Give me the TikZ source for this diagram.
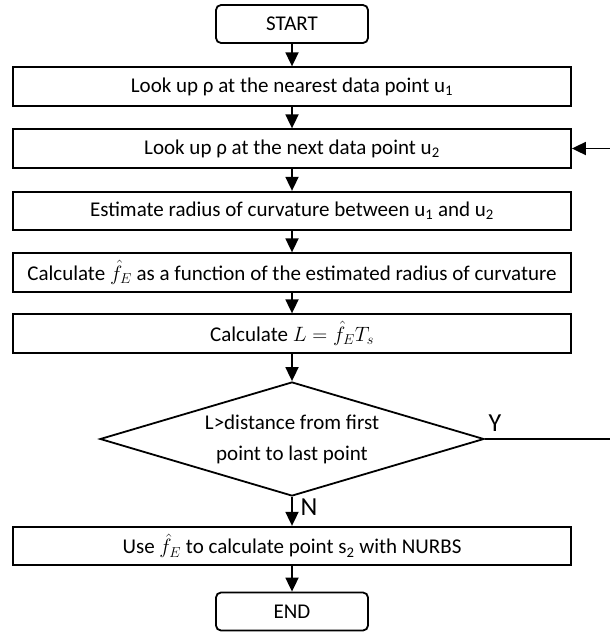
\documentclass[tikz,border=0pt]{standalone}
\usepackage{fontspec}
\setmainfont{Carlito}
\usetikzlibrary{arrows.meta,shapes.geometric}
\begin{document}
\begin{tikzpicture}[x=1pt,y=-1pt,
  txt/.style={font=\fontsize{21}{25}\selectfont},
  stepbox/.style={txt,draw,line width=1.8pt,minimum width=558pt,minimum height=38.5pt,inner sep=0pt},
  term/.style={txt,draw,line width=1.8pt,rounded corners=5pt,
    minimum width=152pt,minimum height=38pt,inner sep=0pt},
  decision/.style={font=\fontsize{21}{31}\selectfont,draw,diamond,aspect=3.37,line width=1.8pt,
    minimum width=384pt,minimum height=114pt,inner sep=0pt,align=center},
  flow/.style={line width=1.8pt,-{Triangle[width=13pt,length=14pt]}},
  branch/.style={font=\fontsize{26}{28}\selectfont}]
\useasboundingbox (0,0) rectangle (610,632);

% process chain
\node[term]     (start) at (292,24)    {START};
\node[stepbox]  (near)  at (292,86.5)  {Look up ρ at the nearest data point u\textsubscript{1}};
\node[stepbox]  (next)  at (292,148.5) {Look up ρ at the next data point u\textsubscript{2}};
\node[stepbox]  (rad)   at (292,211)   {Estimate radius of curvature between u\textsubscript{1} and u\textsubscript{2}};
\node[stepbox]  (feed)  at (292,272.5) {Calculate $\hat{f}_E$ as a function of the estimated radius of curvature};
\node[stepbox]  (len)   at (292,333.5) {Calculate $L=\hat{f}_E T_s$};
\node[decision] (test)  at (292,439)   {L>distance from first\\point to last point};
\node[stepbox]  (nurbs) at (292,546)   {Use $\hat{f}_E$ to calculate point s\textsubscript{2} with NURBS};
\node[term]     (stop)  at (292,611.5) {END};

% branch labels
\node[branch] (yes) at (495,423) {Y};
\node[branch] (no)  at (309,507) {N};

% connectors
\draw[flow] (start) -- (near);
\draw[flow] (near) -- (next);
\draw[flow] (next) -- (rad);
\draw[flow] (rad) -- (feed);
\draw[flow] (feed) -- (len);
\draw[flow] (len) -- (test);
\draw[flow] (test) -- (nurbs);
\draw[flow] (nurbs) -- (stop);

% loop back to the next data point
\coordinate (loop) at (612,439);
\draw[flow] (test.east) -- (loop) |- (next.east);
\end{tikzpicture}
\end{document}
